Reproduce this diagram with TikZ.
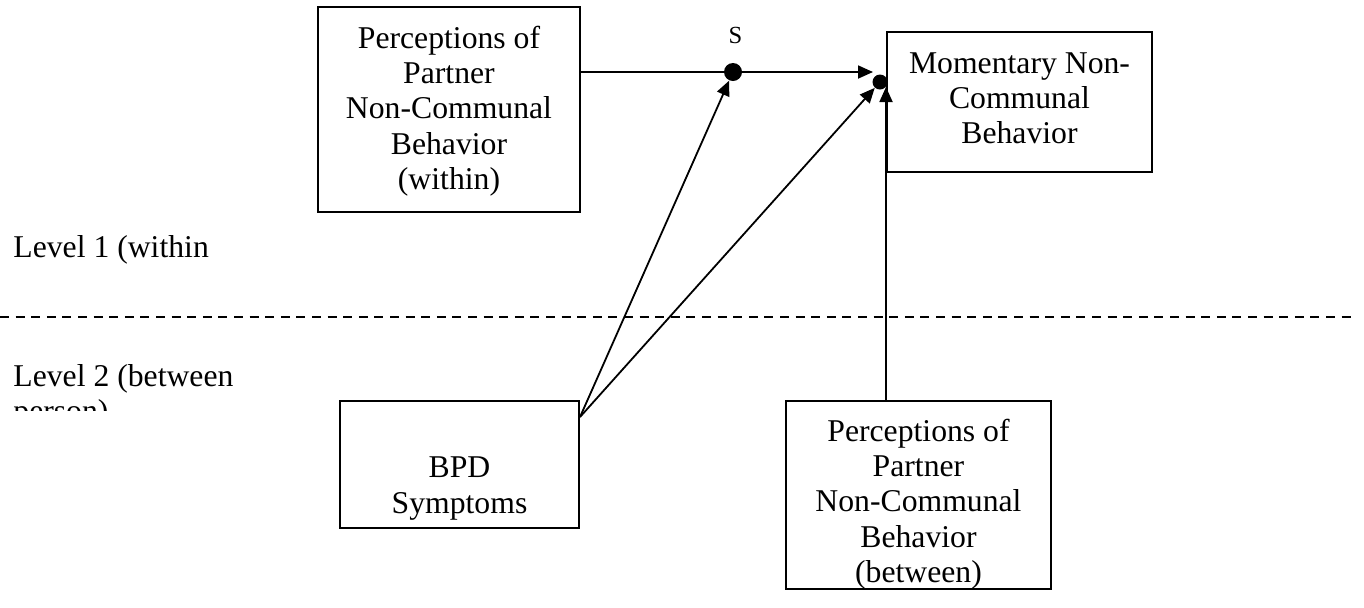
\documentclass[tikz,border=0pt]{standalone}
\usepackage{fontspec}
\setmainfont{Liberation Serif}
\usetikzlibrary{arrows.meta}
\tikzset{box/.style={draw,line width=1pt,align=center,inner sep=0pt,
           font=\fontsize{15.85}{17.6}\selectfont},
         dot/.style={circle,fill,inner sep=0pt,minimum size=9pt},
         level/.style={align=left,anchor=north west,inner sep=0pt,
           font=\fontsize{15.85}{17.6}\selectfont},
         link/.style={draw,->,line width=0.9pt},
         >={Triangle[length=7.5pt,width=6.5pt]}}

\begin{document}
\begin{tikzpicture}[x=0.5pt,y=-0.5pt]
\useasboundingbox (0,0) rectangle (1364,607);
\node[box,minimum width=131pt,minimum height=102.5pt] (percw) at (449,109.5)
  {\rule{0pt}{12.7pt}Perceptions of\\Partner\\Non-Communal\\Behavior\\(within)};
\node[box,minimum width=132.5pt,minimum height=70pt] (mom) at (1019.5,102)
  {Momentary Non-\\Communal\\Behavior\rule[-3.6pt]{0pt}{3.6pt}};
\node[box,minimum width=119.5pt,minimum height=63.5pt] (bpd) at (459.5,464.5)
  {\rule{0pt}{34.5pt}BPD\\Symptoms};
\node[box,minimum width=132.5pt,minimum height=93pt] (percb) at (918.5,495)
  {\rule{0pt}{20.2pt}Perceptions of\\Partner\\Non-Communal\\Behavior\\(between)};
\node[dot] (dots) at (733,72) {};
\node[dot,minimum size=7.5pt] (dotm) at (880,82) {};
\node[anchor=base,inner sep=0pt,font=\fontsize{12.3}{14}\selectfont] (slab) at (735.5,43) {S};
\node[level] (lev1) at (13,235) {Level 1 (within};
\begin{scope}
  \clip (0,0) rectangle (1364,410);
  \node[level] (lev2) at (13,364) {Level 2 (between\\person)};
\end{scope}
\coordinate (dl) at (0,317);
\coordinate (dr) at (1353,317);
\draw[line width=1pt,dash pattern=on 4.5pt off 3.3pt] (dl) -- (dr);
\coordinate (bpdout) at ([yshift=-8.5pt]bpd.north east);
\coordinate (tipa) at (873,72);
\coordinate (tipv) at (mom.west |- dotm.center);
\draw[link] (percw.east |- dots.center) -- (tipa);
\draw[link] (bpdout) -- (dots);
\draw[link] (bpdout) -- (dotm);
\draw[link] (percb.north -| mom.west) -- ([yshift=-2.5pt]tipv);
\end{tikzpicture}
\end{document}
